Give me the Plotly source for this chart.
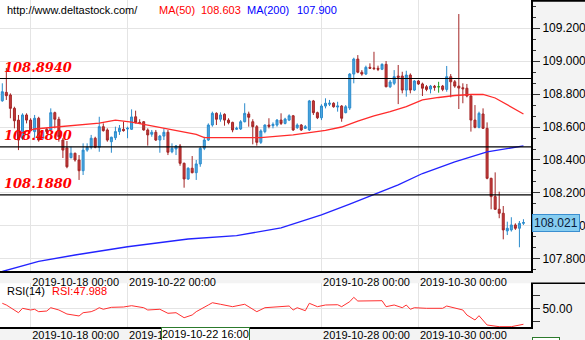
import plotly.graph_objects as go

# ---------------- data ----------------
trading_days = ["2019-10-17", "2019-10-18", "2019-10-21", "2019-10-22", "2019-10-23",
                "2019-10-24", "2019-10-25", "2019-10-28", "2019-10-29", "2019-10-30",
                "2019-10-31", "2019-11-01"]
all_times = [f"{d} {h:02d}:00" for d in trading_days for h in range(0, 24, 2)]
times = all_times[5:135]   # 2-hour candles, 2019-10-17 10:00 .. 2019-11-01 04:00

opens = [108.759, 108.810, 108.794, 108.713, 108.642, 108.532, 108.673, 108.642, 108.572, 108.653,
         108.532, 108.586, 108.582, 108.687, 108.647, 108.521, 108.473, 108.414, 108.441, 108.400,
         108.335, 108.460, 108.477, 108.532, 108.477, 108.602, 108.582, 108.511, 108.535, 108.572,
         108.586, 108.588, 108.586, 108.662, 108.628, 108.632, 108.582, 108.556, 108.568, 108.521,
         108.545, 108.568, 108.450, 108.467, 108.485, 108.380, 108.285, 108.350, 108.323, 108.376,
         108.471, 108.521, 108.612, 108.683, 108.647, 108.677, 108.642, 108.628, 108.586, 108.588,
         108.632, 108.679, 108.632, 108.602, 108.507, 108.572, 108.612, 108.608, 108.612, 108.642,
         108.622, 108.642, 108.668, 108.596, 108.612, 108.592, 108.582, 108.758, 108.687, 108.656,
         108.727, 108.738, 108.744, 108.721, 108.727, 108.687, 108.715, 108.921, 109.012, 108.932,
         108.921, 108.962, 108.958, 108.956, 108.950, 108.980, 108.844, 108.865, 108.909, 108.909,
         108.824, 108.915, 108.824, 108.879, 108.861, 108.844, 108.830, 108.847, 108.844, 108.848,
         108.828, 108.905, 108.874, 108.848, 108.838, 108.835, 108.788, 108.642, 108.598, 108.679,
         108.592, 108.289, 108.178, 108.101, 108.077, 107.970, 107.976, 108.006, 107.986, 108.016]
highs = [108.865, 108.958, 108.804, 108.723, 108.673, 108.683, 108.683, 108.653, 108.673, 108.662,
         108.582, 108.595, 108.713, 108.693, 108.662, 108.533, 108.515, 108.481, 108.444, 108.430,
         108.501, 108.501, 108.552, 108.541, 108.662, 108.622, 108.592, 108.541, 108.602, 108.612,
         108.632, 108.602, 108.707, 108.699, 108.647, 108.636, 108.592, 108.582, 108.582, 108.552,
         108.592, 108.582, 108.501, 108.491, 108.497, 108.384, 108.356, 108.424, 108.400, 108.481,
         108.541, 108.622, 108.693, 108.689, 108.689, 108.683, 108.653, 108.632, 108.602, 108.642,
         108.744, 108.693, 108.647, 108.612, 108.586, 108.616, 108.653, 108.628, 108.648, 108.683,
         108.656, 108.677, 108.673, 108.622, 108.618, 108.612, 108.764, 108.764, 108.693, 108.738,
         108.774, 108.764, 108.750, 108.753, 108.733, 108.733, 108.927, 109.020, 109.036, 108.945,
         108.972, 108.986, 109.056, 108.972, 108.986, 109.000, 108.885, 108.945, 108.976, 108.935,
         108.941, 108.925, 108.885, 108.885, 108.869, 108.854, 108.855, 108.855, 108.874, 108.855,
         108.970, 108.921, 108.885, 109.285, 108.865, 108.861, 108.794, 108.733, 108.693, 108.713,
         108.628, 108.292, 108.325, 108.208, 108.121, 108.026, 108.053, 108.016, 108.030, 108.041]
lows = [108.753, 108.764, 108.653, 108.592, 108.460, 108.521, 108.622, 108.572, 108.521, 108.511,
        108.521, 108.560, 108.572, 108.592, 108.511, 108.412, 108.350, 108.410, 108.390, 108.279,
        108.309, 108.450, 108.465, 108.471, 108.450, 108.572, 108.511, 108.444, 108.521, 108.552,
        108.572, 108.532, 108.582, 108.622, 108.618, 108.578, 108.487, 108.541, 108.515, 108.444,
        108.521, 108.430, 108.441, 108.430, 108.365, 108.232, 108.279, 108.319, 108.279, 108.359,
        108.460, 108.515, 108.602, 108.612, 108.632, 108.608, 108.616, 108.568, 108.582, 108.582,
        108.628, 108.602, 108.495, 108.487, 108.497, 108.562, 108.592, 108.592, 108.602, 108.612,
        108.616, 108.636, 108.576, 108.588, 108.576, 108.588, 108.576, 108.673, 108.648, 108.642,
        108.713, 108.727, 108.717, 108.693, 108.632, 108.683, 108.703, 108.865, 108.926, 108.911,
        108.915, 108.952, 108.945, 108.939, 108.945, 108.841, 108.836, 108.854, 108.739, 108.804,
        108.784, 108.804, 108.818, 108.855, 108.788, 108.817, 108.804, 108.820, 108.808, 108.817,
        108.814, 108.780, 108.838, 108.709, 108.744, 108.780, 108.572, 108.592, 108.592, 108.588,
        108.283, 108.101, 108.097, 108.047, 107.919, 107.945, 107.966, 107.976, 107.871, 108.006]
closes = [108.814, 108.790, 108.713, 108.638, 108.521, 108.673, 108.642, 108.578, 108.653, 108.521,
          108.572, 108.572, 108.687, 108.647, 108.541, 108.460, 108.359, 108.441, 108.400, 108.335,
          108.460, 108.477, 108.532, 108.477, 108.602, 108.578, 108.521, 108.538, 108.572, 108.592,
          108.578, 108.592, 108.661, 108.626, 108.622, 108.582, 108.552, 108.568, 108.521, 108.545,
          108.568, 108.447, 108.471, 108.485, 108.380, 108.285, 108.350, 108.323, 108.376, 108.471,
          108.521, 108.612, 108.683, 108.647, 108.673, 108.642, 108.626, 108.582, 108.592, 108.632,
          108.683, 108.659, 108.602, 108.507, 108.576, 108.612, 108.604, 108.616, 108.642, 108.622,
          108.648, 108.668, 108.582, 108.612, 108.582, 108.602, 108.758, 108.687, 108.656, 108.727,
          108.744, 108.744, 108.723, 108.727, 108.653, 108.723, 108.921, 109.012, 108.932, 108.921,
          108.962, 108.956, 108.954, 108.950, 108.980, 108.844, 108.873, 108.905, 108.901, 108.824,
          108.915, 108.824, 108.879, 108.861, 108.835, 108.828, 108.848, 108.841, 108.844, 108.828,
          108.905, 108.874, 108.848, 108.836, 108.832, 108.788, 108.642, 108.598, 108.683, 108.592,
          108.289, 108.178, 108.101, 108.077, 107.976, 107.986, 108.006, 107.986, 108.016, 108.021]

ma50_idx = [4, 8, 12, 16, 20, 24, 28, 32, 36, 40, 44, 48, 50, 56, 64, 72, 80, 84, 88, 92, 96,
            100, 104, 108, 112, 116, 119, 122, 125, 129]
ma50_val = [108.558, 108.588, 108.597, 108.606, 108.612, 108.624, 108.642, 108.630, 108.612,
            108.594, 108.573, 108.555, 108.536, 108.535, 108.536, 108.552, 108.579, 108.600,
            108.636, 108.667, 108.693, 108.724, 108.764, 108.779, 108.791, 108.797, 108.798,
            108.776, 108.736, 108.679]

ma200_idx = [0, 9, 18, 31, 46, 58, 69, 79, 86, 92, 98, 104, 112, 120, 129]
ma200_val = [107.724, 107.785, 107.824, 107.874, 107.921, 107.942, 107.988, 108.067, 108.133,
             108.191, 108.249, 108.318, 108.388, 108.449, 108.485]

rsi_idx = [0, 1, 4, 5, 7, 8, 9, 11, 12, 14, 16, 19, 20, 22, 23, 24, 25, 27, 30, 32, 35, 36, 39,
           40, 41, 43, 45, 47, 48, 51, 52, 54, 57, 60, 63, 65, 68, 71, 72, 73, 75, 76, 78, 80,
           83, 84, 86, 87, 88, 91, 94, 95, 97, 99, 100, 101, 102, 105, 109, 110, 114, 115, 117,
           118, 120, 123, 126, 129]
rsi_val = [57.7, 55.1, 43.2, 50.0, 47.4, 48.5, 44.8, 45.8, 50.9, 47.4, 41.2, 38.2, 43.2, 44.8,
           47.4, 50.9, 48.5, 51.5, 52.0, 54.0, 50.9, 47.4, 48.5, 44.8, 42.3, 43.2, 35.5, 39.7,
           44.8, 55.1, 58.6, 56.2, 52.5, 56.2, 44.8, 50.9, 52.0, 53.5, 47.4, 50.9, 46.3, 57.7,
           52.5, 55.1, 55.5, 52.5, 60.2, 66.9, 61.2, 61.7, 61.7, 52.5, 55.1, 50.9, 55.1, 48.5,
           50.9, 50.0, 50.0, 53.5, 47.4, 39.7, 32.0, 38.6, 24.3, 21.7, 21.7, 25.4]

levels = [108.894, 108.480, 108.188]
level_labels = ["108.8940", "108.4800", "108.1880"]

date_ticks = ["2019-10-18 00:00", "2019-10-22 00:00", "2019-10-28 00:00", "2019-10-30 00:00"]
cursor_time = "2019-10-22 16:00"
last_price = 108.021
header_ma50, header_ma200, header_rsi = "108.603", "107.900", "47.988"

# ---------------- geometry helpers (pixels -> paper) ----------------
W, H = 585, 340
ML, MR, MT, MB = 0, 54, 0, 13
PW, PH = W - ML - MR, H - MT - MB


def px(x):
    return (x - ML) / PW


def py(y):
    return (PH - (y - MT)) / PH


FONT = "Liberation Sans, Arial, sans-serif"
INC_FILL, INC_LINE = "#4ea7e0", "#2a8bcc"
DEC_FILL, DEC_LINE = "#c43a3a", "#a32626"

fig = go.Figure()

# candles (doji drawn separately in green)
normal = [i for i in range(len(times)) if opens[i] != closes[i]]
doji = [i for i in range(len(times)) if opens[i] == closes[i]]


def pick(arr, idx):
    return [arr[i] for i in idx]


fig.add_trace(go.Candlestick(
    x=pick(times, normal), open=pick(opens, normal), high=pick(highs, normal),
    low=pick(lows, normal), close=pick(closes, normal),
    increasing=dict(line=dict(color=INC_LINE, width=1), fillcolor=INC_FILL),
    decreasing=dict(line=dict(color=DEC_LINE, width=1), fillcolor=DEC_FILL),
    whiskerwidth=0, showlegend=False, xaxis="x", yaxis="y", hoverinfo="skip"))
if doji:
    fig.add_trace(go.Candlestick(
        x=pick(times, doji), open=pick(opens, doji), high=pick(highs, doji),
        low=pick(lows, doji), close=pick(closes, doji),
        increasing=dict(line=dict(color="#1e9a1e", width=1), fillcolor="#1e9a1e"),
        decreasing=dict(line=dict(color="#1e9a1e", width=1), fillcolor="#1e9a1e"),
        whiskerwidth=0, showlegend=False, xaxis="x", yaxis="y", hoverinfo="skip"))

fig.add_trace(go.Scatter(x=pick(times, ma200_idx), y=ma200_val, mode="lines",
                         line=dict(color="#2323ff", width=1.3), xaxis="x", yaxis="y",
                         showlegend=False, hoverinfo="skip"))
fig.add_trace(go.Scatter(x=pick(times, ma50_idx), y=ma50_val, mode="lines",
                         line=dict(color="#ff2b2b", width=1.3), xaxis="x", yaxis="y",
                         showlegend=False, hoverinfo="skip"))
fig.add_trace(go.Scatter(x=pick(times, rsi_idx), y=rsi_val, mode="lines",
                         line=dict(color="#ff3030", width=1), xaxis="x2", yaxis="y2",
                         showlegend=False, hoverinfo="skip"))

# axis ranges (category index space)
x_range = [-0.57, 130.87]
price_range = [107.727, 109.370]
rsi_range = [21.2, 88.5]
price_dom = [py(271), 1.0]
rsi_dom = [0.0, py(283.3)]

common_x = dict(type="category", categoryorder="array", categoryarray=times, range=x_range,
                tickmode="array", tickvals=date_ticks, ticktext=date_ticks,
                showgrid=True, gridcolor="#e4e4e4", gridwidth=1, ticks="",
                showline=True, linecolor="black", linewidth=1.5,
                tickfont=dict(family=FONT, size=11, color="black"),
                ticklabelshift=45, fixedrange=True, zeroline=False)

fig.update_layout(
    width=W, height=H, margin=dict(l=ML, r=MR, t=MT, b=MB),
    paper_bgcolor="#f3f3f3", plot_bgcolor="white", showlegend=False,
    font=dict(family=FONT, size=11, color="black"),
    xaxis=dict(common_x, anchor="y", rangeslider=dict(visible=False)),
    xaxis2=dict(common_x, anchor="y2", ticklabelstandoff=-3),
    yaxis=dict(domain=price_dom, range=price_range, side="right", tickformat=".3f",
               tick0=0, dtick=0.2, ticks="outside", ticklen=7, tickcolor="#333",
               minor=dict(dtick=0.2 / 3, ticklen=3, tickcolor="#333", showgrid=False),
               showgrid=True, gridcolor="#e4e4e4", zeroline=False,
               showline=True, linecolor="black", linewidth=2,
               tickfont=dict(family=FONT, size=12, color="black"), fixedrange=True),
    yaxis2=dict(domain=rsi_dom, range=rsi_range, side="right", tickmode="array",
                tickvals=[50], ticktext=["50.00"], ticks="outside", ticklen=7, tickcolor="#333",
                minor=dict(tickmode="array", tickvals=[30, 70], ticklen=7, tickcolor="#333",
                           showgrid=False),
                showgrid=True, gridcolor="#e4e4e4", zeroline=False,
                showline=True, linecolor="black", linewidth=2,
                tickfont=dict(family=FONT, size=12, color="black"), fixedrange=True),
)

shapes = []
for lv in levels:
    shapes.append(dict(type="line", xref="paper", yref="y", x0=0, x1=1, y0=lv, y1=lv,
                       line=dict(color="black", width=1.2), layer="above"))
# right axis separator between price and RSI axes, and top edge
shapes.append(dict(type="line", xref="paper", yref="paper", x0=1, x1=px(W), y0=py(283.3),
                   y1=py(283.3), line=dict(color="black", width=1.5)))
shapes.append(dict(type="line", xref="paper", yref="paper", x0=1, x1=px(W), y0=py(0.8),
                   y1=py(0.8), line=dict(color="black", width=2)))
fig.update_layout(shapes=shapes)

ann = []
# header texts
hdr_y = py(10)
ann.append(dict(text="http://www.deltastock.com/", x=px(5), y=hdr_y, font=dict(color="#000", size=11)))
ann.append(dict(text="MA(50)", x=px(157), y=hdr_y, font=dict(color="#ff0000", size=11)))
ann.append(dict(text=header_ma50, x=px(199), y=hdr_y, font=dict(color="#ff0000", size=11)))
ann.append(dict(text="MA(200)", x=px(245), y=hdr_y, font=dict(color="#0000ff", size=11)))
ann.append(dict(text=header_ma200, x=px(295), y=hdr_y, font=dict(color="#0000ff", size=11)))
ann.append(dict(text="RSI(14)", x=px(5), y=py(291), font=dict(color="#000", size=11)))
ann.append(dict(text="RSI:" + header_rsi, x=px(50), y=py(291), font=dict(color="#ff0000", size=11)))
for a in ann:
    a.update(xref="paper", yref="paper", xanchor="left", yanchor="middle", showarrow=False)
    a["font"]["family"] = FONT

for lv, lab in zip(levels, level_labels):
    ann.append(dict(text=f"<b><i>{lab}</i></b>", xref="paper", yref="y", x=px(2), y=lv,
                    xanchor="left", yanchor="bottom", yshift=2, showarrow=False,
                    font=dict(family="DejaVu Serif", size=13, color="#ff0000")))

# current price box on the price axis
ann.append(dict(text=f"{last_price:.3f}", xref="paper", yref="y", x=1, y=last_price,
                xanchor="left", yanchor="middle", xshift=1, showarrow=False,
                bgcolor="#86cdf0", bordercolor="#3a8ed0", borderwidth=1, borderpad=1,
                font=dict(family=FONT, size=12, color="#0a1a3a")))
# cursor time box on the bottom axis
ann.append(dict(text=cursor_time, xref="x2", yref="paper", x=cursor_time, y=py(333.8),
                xanchor="left", yanchor="middle", xshift=1, showarrow=False,
                bgcolor="white", bordercolor="#2c7a2c", borderwidth=1, borderpad=0,
                font=dict(family=FONT, size=11, color="black")))
# cursor value box (mostly cut off) under RSI axis
ann.append(dict(text="0.00", xref="paper", yref="paper", x=1, y=py(346),
                xanchor="left", yanchor="middle", xshift=1, showarrow=False,
                bgcolor="white", bordercolor="#2c7a2c", borderwidth=1, borderpad=1,
                font=dict(family=FONT, size=12, color="black")))
fig.update_layout(annotations=ann)

fig.write_html("out.html", config={"displayModeBar": False, "staticPlot": True})
